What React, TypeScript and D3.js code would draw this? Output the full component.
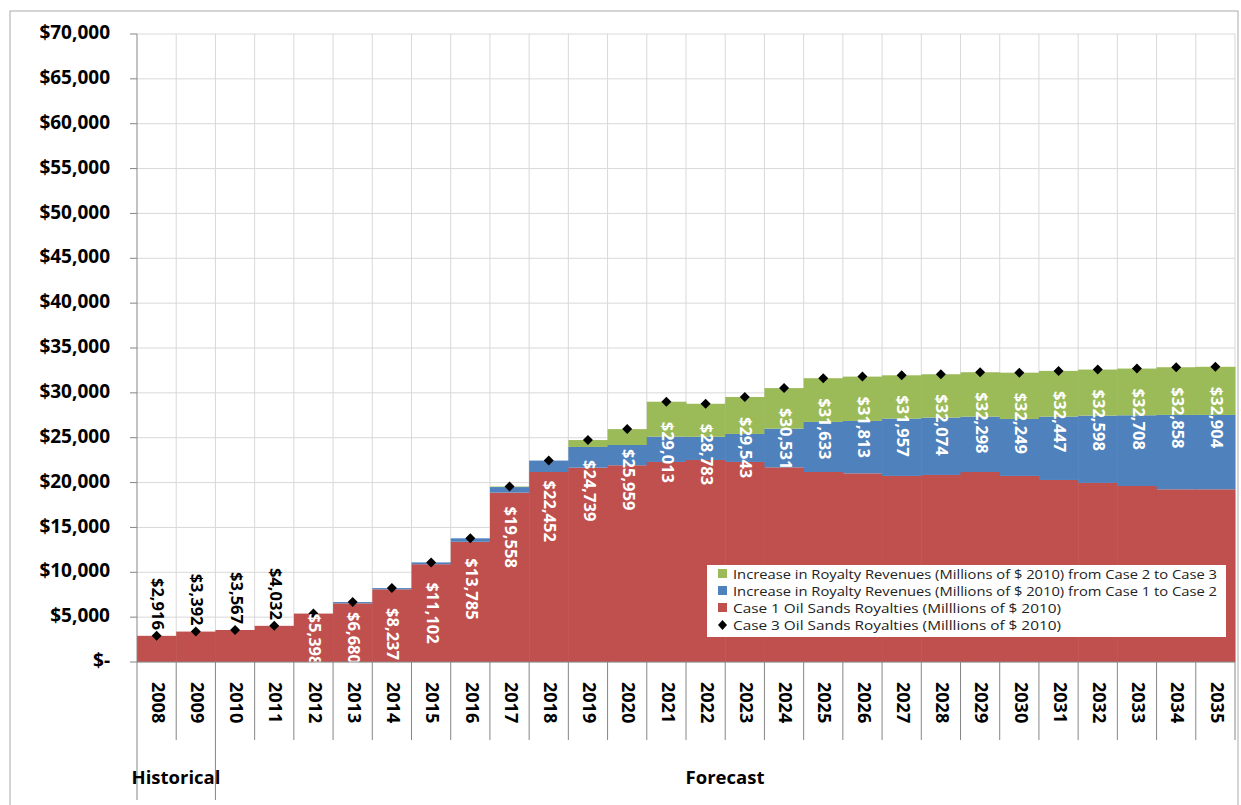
import React from "react";
import * as d3 from "d3";

const years = d3.range(2008, 2036).map(String);
const case1 = [2916, 3392, 3567, 4032, 5398, 6540, 8100, 10900, 13400, 18880, 21180, 21660, 21930, 22300, 22520, 22300, 21700, 21180, 21030, 20740, 20850, 21180, 20740, 20290, 19960, 19620, 19250, 19250];
const case2 = [2916, 3392, 3567, 4032, 5398, 6680, 8237, 11102, 13785, 19500, 22452, 23970, 24190, 25120, 25100, 25420, 26010, 26760, 26870, 27130, 27240, 27350, 27090, 27350, 27460, 27500, 27540, 27540];
const case3 = [2916, 3392, 3567, 4032, 5398, 6680, 8237, 11102, 13785, 19558, 22452, 24739, 25959, 29013, 28783, 29543, 30531, 31633, 31813, 31957, 32074, 32298, 32249, 32447, 32598, 32708, 32858, 32904];
const yTicks = d3.range(0, 70001, 5000);
const legendItems = [
  "Increase in Royalty Revenues (Millions of $ 2010) from Case 2 to Case 3",
  "Increase in Royalty Revenues (Millions of $ 2010) from Case 1 to Case 2",
  "Case 1 Oil Sands Royalties (Milllions of $ 2010)",
  "Case 3 Oil Sands Royalties (Milllions of $ 2010)",
];
const RED = "#C0504D", BLUE = "#4F81BD", GREEN = "#9BBB59";

export default function App() {
  const L = 137, R = 1235, T = 34, B = 662;
  const x = d3.scaleBand().domain(years).range([L, R]).padding(0);
  const y = d3.scaleLinear().domain([0, 70000]).range([B, T]);
  const bw = x.bandwidth();
  const font = "'Open Sans', sans-serif";
  const fmt = d3.format(",");
  return (
    <svg width={1241} height={805} style={{ position: "absolute", left: 0, top: 0, fontFamily: font }}>
      <rect x={0} y={0} width={1241} height={805} fill="#fff" />
      <rect x={10} y={11} width={1228} height={800} fill="none" stroke="#aaa" />
      {yTicks.map(t => (
        <line key={"h" + t} x1={L} x2={R} y1={y(t)} y2={y(t)} stroke="#d9d9d9" />
      ))}
      {years.map(yr => (
        <line key={"v" + yr} x1={x(yr)! + bw} x2={x(yr)! + bw} y1={T} y2={B} stroke="#d9d9d9" />
      ))}
      {years.map((yr, i) => (
        <g key={"b" + yr}>
          <rect x={x(yr)!} width={bw + 0.5} y={y(case1[i])} height={B - y(case1[i])} fill={RED} />
          <rect x={x(yr)!} width={bw + 0.5} y={y(case2[i])} height={y(case1[i]) - y(case2[i])} fill={BLUE} />
          <rect x={x(yr)!} width={bw + 0.5} y={y(case3[i])} height={y(case2[i]) - y(case3[i])} fill={GREEN} />
        </g>
      ))}
      {/* legend */}
      <rect x={707} y={565} width={519} height={72} fill="#fff" />
      {legendItems.map((t, i) => (
        <g key={"l" + i} transform={`translate(719,${574 + i * 17})`}>
          {i < 3 ? (
            <rect x={-1} y={-5} width={9} height={9} fill={[GREEN, BLUE, RED][i]} />
          ) : (
            <path d="M3.5,-5 L8,0 L3.5,5 L-1,0 Z" fill="#000" />
          )}
          <text x={14} y={5} fontSize={13.5} fill="#222" textLength={i < 2 ? 484 : 328} lengthAdjust="spacingAndGlyphs">{t}</text>
        </g>
      ))}
      {years.map((yr, i) => {
        const cx = x(yr)! + bw / 2, cy = y(case3[i]);
        return <path key={"d" + yr} d={`M${cx},${cy - 5} L${cx + 5},${cy} L${cx},${cy + 5} L${cx - 5},${cy} Z`} fill="#000" />;
      })}
      {years.map((yr, i) => {
        const cx = x(yr)! + bw / 2, cy = y(case3[i]);
        const outside = i < 4;
        const off = i === 4 ? 0 : i === 5 ? 10 : 20;
        return (
          <text key={"t" + yr} transform={`translate(${cx},${outside ? cy - 6 : cy + off}) rotate(90)`}
            textAnchor={outside ? "end" : "start"} dominantBaseline="middle"
            fontSize={16.5} fontWeight="bold" fill={outside ? "#000" : "#fff"}>
            {"$" + fmt(case3[i])}
          </text>
        );
      })}
      <rect x={L} y={B + 1} width={R - L} height={4} fill="#fff" />
      {/* axes */}
      <line x1={L} x2={L} y1={T} y2={B} stroke="#868686" />
      <line x1={L} x2={R} y1={B} y2={B} stroke="#868686" />
      {yTicks.map(t => (
        <g key={"yt" + t}>
          <line x1={L - 7} x2={L} y1={y(t)} y2={y(t)} stroke="#868686" />
          <text x={L - 27} y={y(t)} textAnchor="end" dominantBaseline="middle" fontSize={19} fontWeight="bold" fill="#000">
            {t === 0 ? "$-" : "$" + fmt(t)}
          </text>
        </g>
      ))}
      {years.map((yr, i) => (
        <g key={"xt" + yr}>
          <line x1={x(yr)!} x2={x(yr)!} y1={B} y2={i === 0 || i === 2 ? 800 : 740} stroke="#868686" />
          <text transform={`translate(${x(yr)! + bw / 2},${682}) rotate(90)`} textAnchor="start" dominantBaseline="middle"
            fontSize={18} fontWeight="bold" fill="#000">{yr}</text>
        </g>
      ))}
      <line x1={R} x2={R} y1={B} y2={740} stroke="#868686" />
      <text x={176} y={779} textAnchor="middle" dominantBaseline="middle" fontSize={18.5} fontWeight="bold">Historical</text>
      <text x={725} y={779} textAnchor="middle" dominantBaseline="middle" fontSize={18.5} fontWeight="bold">Forecast</text>
    </svg>
  );
}
